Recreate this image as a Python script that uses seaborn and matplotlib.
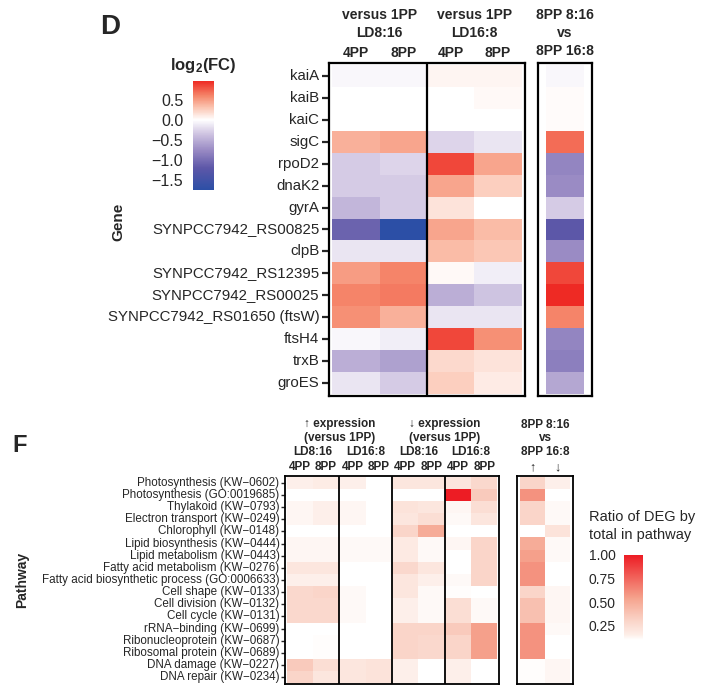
import numpy as np
import pandas as pd
import matplotlib
matplotlib.use("Agg")
import matplotlib.pyplot as plt
import matplotlib.transforms as mtransforms
from matplotlib.colors import LinearSegmentedColormap
import seaborn as sns

sns.set_style("white")
plt.rcParams['font.family'] = ['Liberation Sans', 'DejaVu Sans']
plt.rcParams['mathtext.fontset'] = 'custom'
plt.rcParams['mathtext.rm'] = 'Liberation Sans'
plt.rcParams['mathtext.bf'] = 'Liberation Sans:bold'

# ---------------- Panel D data ----------------
genes = ["kaiA", "kaiB", "kaiC", "sigC", "rpoD2", "dnaK2", "gyrA",
         "SYNPCC7942_RS00825", "clpB", "SYNPCC7942_RS12395",
         "SYNPCC7942_RS00025", "SYNPCC7942_RS01650 (ftsW)", "ftsH4", "trxB", "groES"]
d_cols = ["4PP", "8PP", "4PP ", "8PP "]
ld816_4pp = [-0.05, 0.00, 0.00, 0.40, -0.30, -0.30, -0.45, -1.10, -0.15, 0.50, 0.60, 0.55, -0.05, -0.50, -0.15]
ld816_8pp = [-0.05, 0.00, 0.00, 0.45, -0.25, -0.30, -0.30, -1.75, -0.15, 0.60, 0.65, 0.40, -0.10, -0.60, -0.30]
ld168_4pp = [0.05, 0.00, 0.00, -0.25, 0.85, 0.45, 0.15, 0.45, 0.35, 0.03, -0.50, -0.15, 0.85, 0.20, 0.25]
ld168_8pp = [0.05, 0.03, 0.00, -0.15, 0.45, 0.25, 0.00, 0.35, 0.30, -0.10, -0.35, -0.15, 0.55, 0.15, 0.10]
pp8_816_vs_168 = [-0.05, 0.02, 0.02, 0.70, -0.80, -0.75, -0.30, -1.20, -0.75, 0.85, 0.97, 0.60, -0.80, -0.85, -0.55]
d_groups = ["versus 1PP\nLD8:16", "versus 1PP\nLD16:8"]
d_ticks = [0.5, 0.0, -0.5, -1.0, -1.5]
d_vmin, d_vmax = -1.75, 0.97

# ---------------- Panel F data ----------------
pathways = ["Photosynthesis (KW\u22120602)", "Photosynthesis (GO:0019685)", "Thylakoid (KW\u22120793)",
            "Electron transport (KW\u22120249)", "Chlorophyll (KW\u22120148)", "Lipid biosynthesis (KW\u22120444)",
            "Lipid metabolism (KW\u22120443)", "Fatty acid metabolism (KW\u22120276)",
            "Fatty acid biosynthetic process (GO:0006633)", "Cell shape (KW\u22120133)",
            "Cell division (KW\u22120132)", "Cell cycle (KW\u22120131)", "rRNA\u2212binding (KW\u22120699)",
            "Ribonucleoprotein (KW\u22120687)", "Ribosomal protein (KW\u22120689)",
            "DNA damage (KW\u22120227)", "DNA repair (KW\u22120234)"]
f_cols = ["a", "b", "c", "d", "e", "f", "g", "h"]
f_ticklabels = ["4PP", "8PP", "4PP", "8PP", "4PP", "8PP", "4PP", "8PP"]
up_ld816_4pp = [0.15, 0, 0.13, 0.13, 0, 0.13, 0.13, 0.20, 0.15, 0.28, 0.28, 0.28, 0, 0, 0, 0.35, 0.30]
up_ld816_8pp = [0.17, 0, 0.15, 0.15, 0, 0.13, 0.13, 0.20, 0.15, 0.30, 0.28, 0.28, 0, 0.11, 0.11, 0.25, 0.20]
up_ld168_4pp = [0.15, 0, 0.13, 0.13, 0, 0.12, 0.12, 0, 0, 0.12, 0.12, 0.12, 0, 0, 0, 0.20, 0.20]
up_ld168_8pp = [0, 0, 0, 0, 0, 0.12, 0.12, 0, 0, 0, 0, 0, 0, 0, 0, 0.22, 0.22]
dn_ld816_4pp = [0.20, 0, 0.22, 0.20, 0.30, 0.18, 0.18, 0.28, 0.20, 0.20, 0.15, 0.15, 0.30, 0.30, 0.30, 0.15, 0.15]
dn_ld816_8pp = [0.20, 0, 0.20, 0.25, 0.50, 0.12, 0.12, 0.20, 0.15, 0.12, 0.12, 0.12, 0.30, 0.28, 0.28, 0, 0]
dn_ld168_4pp = [0.20, 1.00, 0.13, 0.12, 0, 0.13, 0, 0, 0.12, 0.11, 0.25, 0.25, 0.35, 0.30, 0.30, 0.15, 0.15]
dn_ld168_8pp = [0.28, 0.35, 0.25, 0.20, 0, 0.30, 0.30, 0.30, 0.30, 0, 0.12, 0.12, 0.55, 0.55, 0.55, 0, 0]
pp8_up = [0.30, 0.60, 0.30, 0.30, 0, 0.50, 0.55, 0.60, 0.60, 0.30, 0.40, 0.40, 0.60, 0.60, 0.60, 0.11, 0.11]
pp8_down = [0.15, 0, 0.12, 0.12, 0.22, 0.12, 0.12, 0, 0, 0.13, 0.13, 0.13, 0.12, 0, 0, 0.13, 0.13]
f_groups_top = ["\u2191 expression", "\u2193 expression"]
f_groups_mid = ["(versus 1PP)", "(versus 1PP)"]
f_groups_ld = ["LD8:16", "LD16:8", "LD8:16", "LD16:8"]
f_ticks = [1.00, 0.75, 0.50, 0.25]
f_vmin, f_vmax = 0.1, 1.0

# ---------------- colormaps ----------------
d_nodes = [(-1.75, "#2c4fa6"), (-1.2, "#5d57a8"), (-0.75, "#9a8bc4"), (-0.3, "#d5cbe5"),
           (0.0, "#ffffff"), (0.3, "#fbc7b4"), (0.6, "#f5866a"), (0.97, "#ee2a24")]
d_cmap = LinearSegmentedColormap.from_list(
    "dcm", [((v - d_vmin) / (d_vmax - d_vmin), c) for v, c in d_nodes])
f_cmap = LinearSegmentedColormap.from_list(
    "fcm", [(0.0, "#ffffff"), (0.06, "#fdeee8"), (0.22, "#fad5c9"), (0.5, "#f5a18b"),
            (1.0, "#ed1c24")])
f_cmap.set_under("#ffffff")

W, H = 703, 689
fig = plt.figure(figsize=(W / 100, H / 100), dpi=100)


def add_ax(x0, y0, x1, y1):
    return fig.add_axes([x0 / W, 1 - y1 / H, (x1 - x0) / W, (y1 - y0) / H])


def frame(ax, lw):
    for s in ax.spines.values():
        s.set_visible(True)
        s.set_color("black")
        s.set_linewidth(lw)


def hdr(ax, x, ypx, s, size, weight="bold"):
    tr = mtransforms.blended_transform_factory(ax.transData, fig.transFigure)
    ax.text(x, 1 - ypx / H, s, transform=tr, ha="center", va="center",
            fontsize=size, fontweight=weight)


# ---------------- Panel D ----------------
df_d = pd.DataFrame({d_cols[0]: ld816_4pp, d_cols[1]: ld816_8pp,
                     d_cols[2]: ld168_4pp, d_cols[3]: ld168_8pp}, index=genes)
df_d2 = pd.DataFrame({"x": pp8_816_vs_168}, index=genes)

axd = add_ax(329, 63, 525, 396)
cax_d = add_ax(193, 81, 214, 190)
sns.heatmap(df_d, ax=axd, cmap=d_cmap, vmin=d_vmin, vmax=d_vmax, cbar=True, cbar_ax=cax_d)
pad = 0.07
axd.set_xlim(-pad, 4 + pad)
axd.set_ylim(15 + pad * 1.2, -pad * 1.2)
axd.axvline(2, color="black", lw=1.6)
frame(axd, 1.6)
axd.set_xticks([0.5, 1.5, 2.5, 3.5])
axd.set_xticklabels(["4PP", "8PP", "4PP", "8PP"], fontsize=10, fontweight="bold")
axd.xaxis.tick_top()
axd.tick_params(axis="x", length=0, pad=2)
axd.set_yticks(np.arange(len(genes)) + 0.5)
axd.set_yticklabels(genes, rotation=0, fontsize=10.8)
axd.tick_params(axis="y", left=True, length=5, width=1.6, pad=2)
axd.set_xlabel("")
axd.set_ylabel("")
hdr(axd, 1, 15, "versus 1PP", 10)
hdr(axd, 1, 33, "LD8:16", 10)
hdr(axd, 3, 15, "versus 1PP", 10)
hdr(axd, 3, 33, "LD16:8", 10)

axd2 = add_ax(538, 63, 592, 396)
sns.heatmap(df_d2, ax=axd2, cmap=d_cmap, vmin=d_vmin, vmax=d_vmax, cbar=False)
axd2.set_xlim(-pad * 3, 1 + pad * 3)
axd2.set_ylim(15 + pad * 1.2, -pad * 1.2)
frame(axd2, 1.6)
axd2.set_xticks([])
axd2.set_yticks([])
axd2.set_xlabel("")
axd2.set_ylabel("")
hdr(axd2, 0.5, 15, "8PP 8:16", 10)
hdr(axd2, 0.5, 33, "vs", 10)
hdr(axd2, 0.5, 51, "8PP 16:8", 10)

cax_d.yaxis.set_ticks_position("left")
cax_d.set_yticks(d_ticks)
cax_d.set_yticklabels([f"{t:.1f}".replace("-", "\u2212") for t in d_ticks], fontsize=11.5)
cax_d.tick_params(axis="y", direction="in", length=4, color="white", width=0.8, pad=7)
for s in cax_d.spines.values():
    s.set_visible(False)
cax_d.set_title(r"$\mathbf{log_2(FC)}$", fontsize=12, pad=8)

fig.text(100 / W, 1 - 27 / H, "D", fontsize=20, fontweight="bold", va="center", ha="left")
fig.text(118 / W, 1 - 222 / H, "Gene", fontsize=11, fontweight="bold", rotation=90,
         va="center", ha="center")

# ---------------- Panel F ----------------
df_f = pd.DataFrame({f_cols[0]: up_ld816_4pp, f_cols[1]: up_ld816_8pp,
                     f_cols[2]: up_ld168_4pp, f_cols[3]: up_ld168_8pp,
                     f_cols[4]: dn_ld816_4pp, f_cols[5]: dn_ld816_8pp,
                     f_cols[6]: dn_ld168_4pp, f_cols[7]: dn_ld168_8pp}, index=pathways)
df_f2 = pd.DataFrame({"up": pp8_up, "down": pp8_down}, index=pathways)

axf = add_ax(285, 476, 499, 684)
cax_f = add_ax(624, 555, 643, 640)
sns.heatmap(df_f, ax=axf, cmap=f_cmap, vmin=f_vmin, vmax=f_vmax, cbar=True, cbar_ax=cax_f)
fp = 0.06
axf.set_xlim(-fp, 8 + fp)
axf.set_ylim(17 + fp, -fp)
for xs in [2, 4, 6]:
    axf.axvline(xs, color="black", lw=1.3)
frame(axf, 1.3)
axf.set_xticks(np.arange(8) + 0.5)
axf.set_xticklabels(f_ticklabels, fontsize=8.5, fontweight="bold")
axf.xaxis.tick_top()
axf.tick_params(axis="x", length=0, pad=2)
axf.set_yticks(np.arange(len(pathways)) + 0.5)
axf.set_yticklabels(pathways, rotation=0, fontsize=8.4)
axf.tick_params(axis="y", left=True, length=3, width=1, pad=1)
axf.set_xlabel("")
axf.set_ylabel("")
hdr(axf, 2, 424, f_groups_top[0], 8.5)
hdr(axf, 6, 424, f_groups_top[1], 8.5)
hdr(axf, 2, 438, f_groups_mid[0], 8.5)
hdr(axf, 6, 438, f_groups_mid[1], 8.5)
for i, s in enumerate(f_groups_ld):
    hdr(axf, 1 + 2 * i, 452, s, 8.5)

axf2 = add_ax(517, 476, 573, 684)
sns.heatmap(df_f2, ax=axf2, cmap=f_cmap, vmin=f_vmin, vmax=f_vmax, cbar=False)
axf2.set_xlim(-fp * 2, 2 + fp * 2)
axf2.set_ylim(17 + fp, -fp)
frame(axf2, 1.3)
axf2.set_xticks([0.5, 1.5])
axf2.set_xticklabels(["\u2191", "\u2193"], fontsize=9)
axf2.xaxis.tick_top()
axf2.tick_params(axis="x", length=0, pad=2)
axf2.set_yticks([])
axf2.set_xlabel("")
axf2.set_ylabel("")
hdr(axf2, 1, 425, "8PP 8:16", 8.5)
hdr(axf2, 1, 438, "vs", 8.5)
hdr(axf2, 1, 452, "8PP 16:8", 8.5)

cax_f.yaxis.set_ticks_position("left")
cax_f.set_yticks(f_ticks)
cax_f.set_yticklabels([f"{t:.2f}" for t in f_ticks], fontsize=10)
cax_f.tick_params(axis="y", direction="in", length=3, color="white", width=0.8, pad=6)
for s in cax_f.spines.values():
    s.set_visible(False)
fig.text(589 / W, 1 - 526 / H, "Ratio of DEG by\ntotal in pathway", fontsize=10.5,
         ha="left", va="center", linespacing=1.3)

fig.text(12 / W, 1 - 445 / H, "F", fontsize=17, fontweight="bold", va="center", ha="left")
fig.text(22 / W, 1 - 580 / H, "Pathway", fontsize=10, fontweight="bold", rotation=90,
         va="center", ha="center")

fig.savefig("out.png", dpi=100)
